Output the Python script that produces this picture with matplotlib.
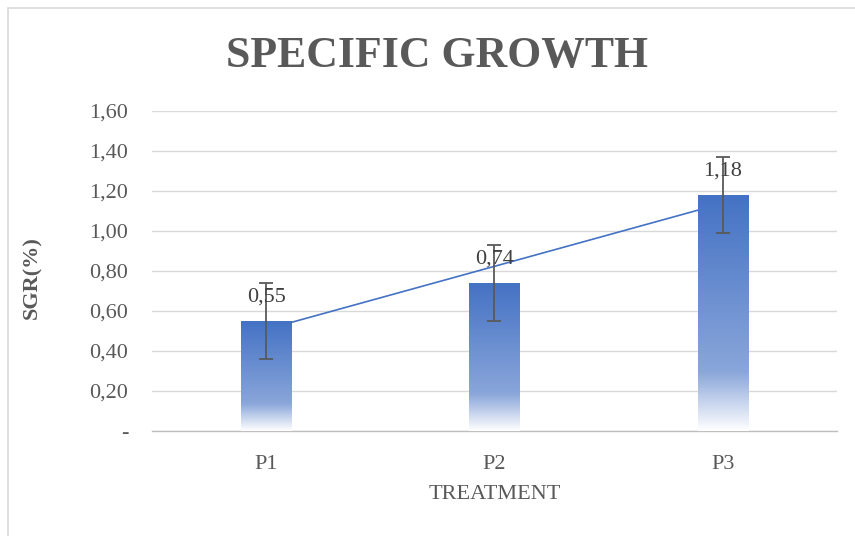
import matplotlib
matplotlib.use("Agg")
import matplotlib.pyplot as plt
from matplotlib.colors import LinearSegmentedColormap
from matplotlib.patches import Rectangle
import numpy as np

treatments = ["P1", "P2", "P3"]
sgr = [0.55, 0.74, 1.18]
sgr_err = [0.19, 0.19, 0.19]
sgr_labels = ["0,55", "0,74", "1,18"]
y_ticks = [0.0, 0.2, 0.4, 0.6, 0.8, 1.0, 1.2, 1.4, 1.6]
y_tick_labels = ["-", "0,20", "0,40", "0,60", "0,80", "1,00", "1,20", "1,40", "1,60"]

plt.rcParams['font.family'] = ['Liberation Serif', 'DejaVu Serif']

BLUE = "#4472C4"
GREY = "#595959"

# gradient used by Excel-style bars: dark at top, fading to white at bottom
grad_cmap = LinearSegmentedColormap.from_list(
    "bar", [(0.0, BLUE), (0.75, "#8AA6DA"), (1.0, "#FFFFFF")])


def main():
    fig = plt.figure(figsize=(8.55, 5.36), dpi=100)
    ax = fig.add_axes([0.1778, 0.1959, 0.801, 0.597])

    # chart border
    fig.patches.append(Rectangle((8 / 855, -0.5), 2, 1.5 - 8 / 536,
                                 transform=fig.transFigure, fill=False,
                                 edgecolor="#d9d9d9", linewidth=1.2))

    x = np.arange(len(treatments))
    width = 0.22

    # linear trendline
    coef = np.polyfit(x, sgr, 1)
    ax.plot(x, np.polyval(coef, x), color=BLUE, linewidth=1.2, zorder=2)

    gradient = np.linspace(0, 1, 256).reshape(-1, 1)
    for xi, v in zip(x, sgr):
        ax.imshow(gradient, cmap=grad_cmap, aspect="auto",
                  extent=[xi - width / 2, xi + width / 2, 0, v],
                  origin="upper", zorder=3)

    ax.errorbar(x, sgr, yerr=sgr_err, fmt="none", ecolor=GREY,
                elinewidth=1.3, capsize=5, capthick=1.3, zorder=4)

    for xi, v, lab in zip(x, sgr, sgr_labels):
        ax.annotate(lab, (xi, v), xytext=(0, 17), textcoords="offset points",
                    ha="center", va="center", fontsize=16, color="#404040",
                    zorder=5)

    ax.set_xlim(-0.5, 2.5)
    ax.set_ylim(0, 1.6)
    ax.set_xticks(x)
    ax.set_xticklabels(treatments)
    ax.set_yticks(y_ticks)
    ax.set_yticklabels(y_tick_labels)
    ax.tick_params(axis="both", length=0, labelsize=16, labelcolor=GREY)
    ax.tick_params(axis="y", pad=17)
    ax.tick_params(axis="x", pad=17)

    ax.yaxis.grid(True, color="#d9d9d9", linewidth=1.0)
    ax.set_axisbelow(True)
    for side in ["top", "right", "left"]:
        ax.spines[side].set_visible(False)
    ax.spines["bottom"].set_color("#bfbfbf")
    ax.spines["bottom"].set_linewidth(1.0)

    ax.set_ylabel("SGR(%)", fontsize=16, fontweight="bold", color=GREY)
    ax.yaxis.set_label_coords(-0.175, 0.48)
    ax.yaxis.label.set_va("center")
    ax.set_xlabel("TREATMENT", fontsize=16, color=GREY)
    ax.xaxis.set_label_coords(0.5, -0.197)
    ax.xaxis.label.set_va("center")

    fig.text(0.511, 0.895, "SPECIFIC GROWTH", ha="center", va="center",
             fontsize=31.5, fontweight="bold", color=GREY)

    fig.savefig("out.png", dpi=100)


if __name__ == "__main__":
    main()
